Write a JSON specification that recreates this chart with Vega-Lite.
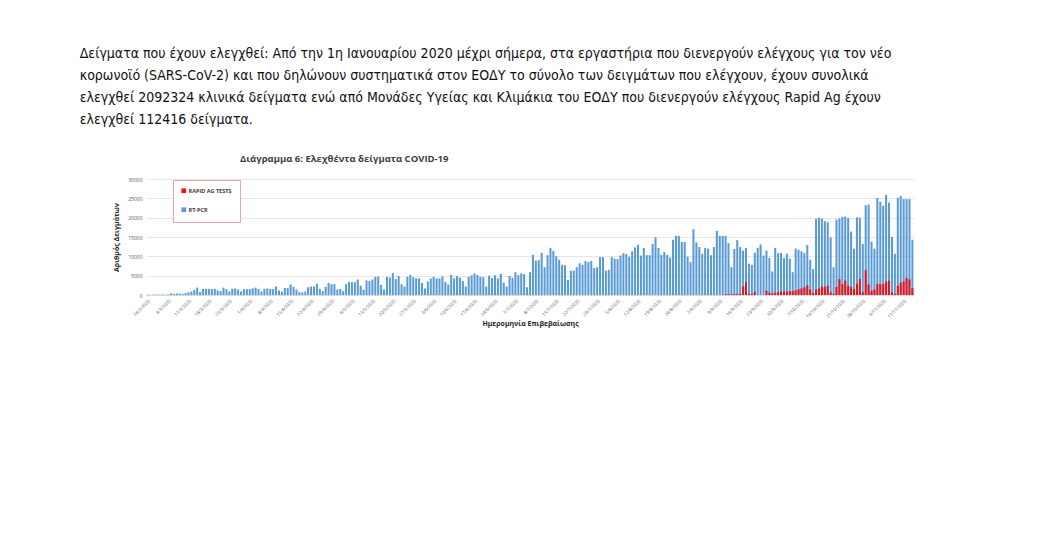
{
"$schema":"https://vega.github.io/schema/vega-lite/v6.json",
"background":"white",
"padding":{"left":79,"top":46,"right":10,"bottom":5},
"title":{"text":["Δείγματα που έχουν ελεγχθεί: Από την 1η Ιανουαρίου 2020 μέχρι σήμερα, στα εργαστήρια που διενεργούν ελέγχους για τον νέο","κορωνοϊό (SARS-CoV-2) και που δηλώνουν συστηματικά στον ΕΟΔΥ το σύνολο των δειγμάτων που ελέγχουν, έχουν συνολικά","ελεγχθεί 2092324 κλινικά δείγματα ενώ από Μονάδες Υγείας και Κλιμάκια του ΕΟΔΥ που διενεργούν ελέγχους Rapid Ag έχουν","ελεγχθεί 112416 δείγματα."],"anchor":"start","font":"DejaVu Sans Condensed","fontSize":14,"fontWeight":"normal","color":"#111111","lineHeight":22,"offset":27,"dx":-33},
"data":{"values":[
{"date":"26/2/2020","test":"RT-PCR","count":100},{"date":"27/2/2020","test":"RT-PCR","count":50},{"date":"28/2/2020","test":"RT-PCR","count":80},{"date":"29/2/2020","test":"RT-PCR","count":150},
{"date":"1/3/2020","test":"RT-PCR","count":100},{"date":"2/3/2020","test":"RT-PCR","count":120},{"date":"3/3/2020","test":"RT-PCR","count":60},{"date":"4/3/2020","test":"RT-PCR","count":150},{"date":"5/3/2020","test":"RT-PCR","count":400},{"date":"6/3/2020","test":"RT-PCR","count":300},{"date":"7/3/2020","test":"RT-PCR","count":400},{"date":"8/3/2020","test":"RT-PCR","count":350},{"date":"9/3/2020","test":"RT-PCR","count":300},{"date":"10/3/2020","test":"RT-PCR","count":500},{"date":"11/3/2020","test":"RT-PCR","count":700},{"date":"12/3/2020","test":"RT-PCR","count":900},{"date":"13/3/2020","test":"RT-PCR","count":1300},{"date":"14/3/2020","test":"RT-PCR","count":1900},{"date":"15/3/2020","test":"RT-PCR","count":800},{"date":"16/3/2020","test":"RT-PCR","count":1600},{"date":"17/3/2020","test":"RT-PCR","count":1600},{"date":"18/3/2020","test":"RT-PCR","count":1600},{"date":"19/3/2020","test":"RT-PCR","count":1500},{"date":"20/3/2020","test":"RT-PCR","count":1600},{"date":"21/3/2020","test":"RT-PCR","count":1200},{"date":"22/3/2020","test":"RT-PCR","count":1000},{"date":"23/3/2020","test":"RT-PCR","count":1900},{"date":"24/3/2020","test":"RT-PCR","count":1500},{"date":"25/3/2020","test":"RT-PCR","count":900},{"date":"26/3/2020","test":"RT-PCR","count":1600},{"date":"27/3/2020","test":"RT-PCR","count":1700},{"date":"28/3/2020","test":"RT-PCR","count":1400},{"date":"29/3/2020","test":"RT-PCR","count":900},{"date":"30/3/2020","test":"RT-PCR","count":1500},{"date":"31/3/2020","test":"RT-PCR","count":1500},
{"date":"1/4/2020","test":"RT-PCR","count":1500},{"date":"2/4/2020","test":"RT-PCR","count":1700},{"date":"3/4/2020","test":"RT-PCR","count":1900},{"date":"4/4/2020","test":"RT-PCR","count":1500},{"date":"5/4/2020","test":"RT-PCR","count":900},{"date":"6/4/2020","test":"RT-PCR","count":1600},{"date":"7/4/2020","test":"RT-PCR","count":1700},{"date":"8/4/2020","test":"RT-PCR","count":1550},{"date":"9/4/2020","test":"RT-PCR","count":1550},{"date":"10/4/2020","test":"RT-PCR","count":2200},{"date":"11/4/2020","test":"RT-PCR","count":1200},{"date":"12/4/2020","test":"RT-PCR","count":860},{"date":"13/4/2020","test":"RT-PCR","count":1800},{"date":"14/4/2020","test":"RT-PCR","count":1800},{"date":"15/4/2020","test":"RT-PCR","count":2700},{"date":"16/4/2020","test":"RT-PCR","count":2100},{"date":"17/4/2020","test":"RT-PCR","count":1400},{"date":"18/4/2020","test":"RT-PCR","count":700},{"date":"19/4/2020","test":"RT-PCR","count":700},{"date":"20/4/2020","test":"RT-PCR","count":860},{"date":"21/4/2020","test":"RT-PCR","count":2000},{"date":"22/4/2020","test":"RT-PCR","count":2200},{"date":"23/4/2020","test":"RT-PCR","count":2200},{"date":"24/4/2020","test":"RT-PCR","count":2900},{"date":"25/4/2020","test":"RT-PCR","count":1600},{"date":"26/4/2020","test":"RT-PCR","count":1000},{"date":"27/4/2020","test":"RT-PCR","count":2100},{"date":"28/4/2020","test":"RT-PCR","count":3100},{"date":"29/4/2020","test":"RT-PCR","count":2800},{"date":"30/4/2020","test":"RT-PCR","count":2800},
{"date":"1/5/2020","test":"RT-PCR","count":1400},{"date":"2/5/2020","test":"RT-PCR","count":1550},{"date":"3/5/2020","test":"RT-PCR","count":1000},{"date":"4/5/2020","test":"RT-PCR","count":2800},{"date":"5/5/2020","test":"RT-PCR","count":3400},{"date":"6/5/2020","test":"RT-PCR","count":3300},{"date":"7/5/2020","test":"RT-PCR","count":3300},{"date":"8/5/2020","test":"RT-PCR","count":4000},{"date":"9/5/2020","test":"RT-PCR","count":2400},{"date":"10/5/2020","test":"RT-PCR","count":1400},{"date":"11/5/2020","test":"RT-PCR","count":3800},{"date":"12/5/2020","test":"RT-PCR","count":3600},{"date":"13/5/2020","test":"RT-PCR","count":4000},{"date":"14/5/2020","test":"RT-PCR","count":4700},{"date":"15/5/2020","test":"RT-PCR","count":4800},{"date":"16/5/2020","test":"RT-PCR","count":2600},{"date":"17/5/2020","test":"RT-PCR","count":1400},{"date":"18/5/2020","test":"RT-PCR","count":4700},{"date":"19/5/2020","test":"RT-PCR","count":4500},{"date":"20/5/2020","test":"RT-PCR","count":5700},{"date":"21/5/2020","test":"RT-PCR","count":4100},{"date":"22/5/2020","test":"RT-PCR","count":4900},{"date":"23/5/2020","test":"RT-PCR","count":2800},{"date":"24/5/2020","test":"RT-PCR","count":2200},{"date":"25/5/2020","test":"RT-PCR","count":4700},{"date":"26/5/2020","test":"RT-PCR","count":5200},{"date":"27/5/2020","test":"RT-PCR","count":4600},{"date":"28/5/2020","test":"RT-PCR","count":4300},{"date":"29/5/2020","test":"RT-PCR","count":4300},{"date":"30/5/2020","test":"RT-PCR","count":3100},{"date":"31/5/2020","test":"RT-PCR","count":1700},
{"date":"1/6/2020","test":"RT-PCR","count":3500},{"date":"2/6/2020","test":"RT-PCR","count":4300},{"date":"3/6/2020","test":"RT-PCR","count":4700},{"date":"4/6/2020","test":"RT-PCR","count":4300},{"date":"5/6/2020","test":"RT-PCR","count":4300},{"date":"6/6/2020","test":"RT-PCR","count":4800},{"date":"7/6/2020","test":"RT-PCR","count":3400},{"date":"8/6/2020","test":"RT-PCR","count":2700},{"date":"9/6/2020","test":"RT-PCR","count":5200},{"date":"10/6/2020","test":"RT-PCR","count":4300},{"date":"11/6/2020","test":"RT-PCR","count":4900},{"date":"12/6/2020","test":"RT-PCR","count":4500},{"date":"13/6/2020","test":"RT-PCR","count":3600},{"date":"14/6/2020","test":"RT-PCR","count":2200},{"date":"15/6/2020","test":"RT-PCR","count":4700},{"date":"16/6/2020","test":"RT-PCR","count":5100},{"date":"17/6/2020","test":"RT-PCR","count":5600},{"date":"18/6/2020","test":"RT-PCR","count":5200},{"date":"19/6/2020","test":"RT-PCR","count":4700},{"date":"20/6/2020","test":"RT-PCR","count":4600},{"date":"21/6/2020","test":"RT-PCR","count":2200},{"date":"22/6/2020","test":"RT-PCR","count":5000},{"date":"23/6/2020","test":"RT-PCR","count":4400},{"date":"24/6/2020","test":"RT-PCR","count":5100},{"date":"25/6/2020","test":"RT-PCR","count":4300},{"date":"26/6/2020","test":"RT-PCR","count":5500},{"date":"27/6/2020","test":"RT-PCR","count":3200},{"date":"28/6/2020","test":"RT-PCR","count":2200},{"date":"29/6/2020","test":"RT-PCR","count":4900},{"date":"30/6/2020","test":"RT-PCR","count":4400},
{"date":"1/7/2020","test":"RT-PCR","count":5900},{"date":"2/7/2020","test":"RT-PCR","count":5100},{"date":"3/7/2020","test":"RT-PCR","count":5600},{"date":"4/7/2020","test":"RT-PCR","count":5400},{"date":"5/7/2020","test":"RT-PCR","count":2000},{"date":"6/7/2020","test":"RT-PCR","count":5900},{"date":"7/7/2020","test":"RT-PCR","count":10400},{"date":"8/7/2020","test":"RT-PCR","count":8900},{"date":"9/7/2020","test":"RT-PCR","count":9000},{"date":"10/7/2020","test":"RT-PCR","count":10900},{"date":"11/7/2020","test":"RT-PCR","count":7200},{"date":"12/7/2020","test":"RT-PCR","count":10300},{"date":"13/7/2020","test":"RT-PCR","count":12200},{"date":"14/7/2020","test":"RT-PCR","count":11400},{"date":"15/7/2020","test":"RT-PCR","count":10000},{"date":"16/7/2020","test":"RT-PCR","count":9100},{"date":"17/7/2020","test":"RT-PCR","count":7800},{"date":"18/7/2020","test":"RT-PCR","count":7700},{"date":"19/7/2020","test":"RT-PCR","count":3900},{"date":"20/7/2020","test":"RT-PCR","count":6300},{"date":"21/7/2020","test":"RT-PCR","count":6300},{"date":"22/7/2020","test":"RT-PCR","count":7200},{"date":"23/7/2020","test":"RT-PCR","count":8200},{"date":"24/7/2020","test":"RT-PCR","count":7800},{"date":"25/7/2020","test":"RT-PCR","count":8800},{"date":"26/7/2020","test":"RT-PCR","count":8500},{"date":"27/7/2020","test":"RT-PCR","count":8800},{"date":"28/7/2020","test":"RT-PCR","count":7000},{"date":"29/7/2020","test":"RT-PCR","count":7200},{"date":"30/7/2020","test":"RT-PCR","count":9800},{"date":"31/7/2020","test":"RT-PCR","count":9800},
{"date":"1/8/2020","test":"RT-PCR","count":6300},{"date":"2/8/2020","test":"RT-PCR","count":6500},{"date":"3/8/2020","test":"RT-PCR","count":9800},{"date":"4/8/2020","test":"RT-PCR","count":9400},{"date":"5/8/2020","test":"RT-PCR","count":9300},{"date":"6/8/2020","test":"RT-PCR","count":10200},{"date":"7/8/2020","test":"RT-PCR","count":10800},{"date":"8/8/2020","test":"RT-PCR","count":10600},{"date":"9/8/2020","test":"RT-PCR","count":9900},{"date":"10/8/2020","test":"RT-PCR","count":11300},{"date":"11/8/2020","test":"RT-PCR","count":12300},{"date":"12/8/2020","test":"RT-PCR","count":13000},{"date":"13/8/2020","test":"RT-PCR","count":10200},{"date":"14/8/2020","test":"RT-PCR","count":12200},{"date":"15/8/2020","test":"RT-PCR","count":10300},{"date":"16/8/2020","test":"RT-PCR","count":10300},{"date":"17/8/2020","test":"RT-PCR","count":13200},{"date":"18/8/2020","test":"RT-PCR","count":14900},{"date":"19/8/2020","test":"RT-PCR","count":12200},{"date":"20/8/2020","test":"RT-PCR","count":10400},{"date":"21/8/2020","test":"RT-PCR","count":11100},{"date":"22/8/2020","test":"RT-PCR","count":10400},{"date":"23/8/2020","test":"RT-PCR","count":9700},{"date":"24/8/2020","test":"RT-PCR","count":14300},{"date":"25/8/2020","test":"RT-PCR","count":15300},{"date":"26/8/2020","test":"RT-PCR","count":15300},{"date":"27/8/2020","test":"RT-PCR","count":13700},{"date":"28/8/2020","test":"RT-PCR","count":13700},{"date":"29/8/2020","test":"RT-PCR","count":9900},{"date":"30/8/2020","test":"RT-PCR","count":8500},{"date":"31/8/2020","test":"RT-PCR","count":17000},
{"date":"1/9/2020","test":"RT-PCR","count":13600},{"date":"2/9/2020","test":"RT-PCR","count":12400},{"date":"3/9/2020","test":"RT-PCR","count":10600},{"date":"4/9/2020","test":"RT-PCR","count":12200},{"date":"5/9/2020","test":"RT-PCR","count":12000},{"date":"6/9/2020","test":"RT-PCR","count":10300},{"date":"7/9/2020","test":"RT-PCR","count":12400},{"date":"8/9/2020","test":"RT-PCR","count":16600},{"date":"9/9/2020","test":"RT-PCR","count":15300},{"date":"10/9/2020","test":"RT-PCR","count":15300},{"date":"11/9/2020","test":"RT-PCR","count":15300},{"date":"12/9/2020","test":"RT-PCR","count":13400},{"date":"13/9/2020","test":"RT-PCR","count":7200},{"date":"14/9/2020","test":"RT-PCR","count":11900},{"date":"15/9/2020","test":"RT-PCR","count":14200},{"date":"16/9/2020","test":"RT-PCR","count":12400},{"date":"17/9/2020","test":"RT-PCR","count":11500},{"date":"18/9/2020","test":"RT-PCR","count":12200},{"date":"19/9/2020","test":"RT-PCR","count":8100},{"date":"20/9/2020","test":"RT-PCR","count":7800},{"date":"21/9/2020","test":"RT-PCR","count":10900},{"date":"22/9/2020","test":"RT-PCR","count":12200},{"date":"23/9/2020","test":"RT-PCR","count":13100},{"date":"24/9/2020","test":"RT-PCR","count":10200},{"date":"25/9/2020","test":"RT-PCR","count":11500},{"date":"26/9/2020","test":"RT-PCR","count":9600},{"date":"27/9/2020","test":"RT-PCR","count":6100},{"date":"28/9/2020","test":"RT-PCR","count":12200},{"date":"29/9/2020","test":"RT-PCR","count":10800},{"date":"30/9/2020","test":"RT-PCR","count":10900},
{"date":"1/10/2020","test":"RT-PCR","count":9600},{"date":"2/10/2020","test":"RT-PCR","count":10700},{"date":"3/10/2020","test":"RT-PCR","count":9400},{"date":"4/10/2020","test":"RT-PCR","count":5900},{"date":"5/10/2020","test":"RT-PCR","count":12000},{"date":"6/10/2020","test":"RT-PCR","count":11700},{"date":"7/10/2020","test":"RT-PCR","count":11300},{"date":"8/10/2020","test":"RT-PCR","count":10900},{"date":"9/10/2020","test":"RT-PCR","count":12900},{"date":"10/10/2020","test":"RT-PCR","count":9100},{"date":"11/10/2020","test":"RT-PCR","count":6700},{"date":"12/10/2020","test":"RT-PCR","count":19700},{"date":"13/10/2020","test":"RT-PCR","count":20000},{"date":"14/10/2020","test":"RT-PCR","count":19800},{"date":"15/10/2020","test":"RT-PCR","count":19100},{"date":"16/10/2020","test":"RT-PCR","count":18800},{"date":"17/10/2020","test":"RT-PCR","count":14900},{"date":"18/10/2020","test":"RT-PCR","count":7200},{"date":"19/10/2020","test":"RT-PCR","count":19500},{"date":"20/10/2020","test":"RT-PCR","count":19800},{"date":"21/10/2020","test":"RT-PCR","count":20200},{"date":"22/10/2020","test":"RT-PCR","count":20300},{"date":"23/10/2020","test":"RT-PCR","count":19900},{"date":"24/10/2020","test":"RT-PCR","count":16400},{"date":"25/10/2020","test":"RT-PCR","count":12000},{"date":"26/10/2020","test":"RT-PCR","count":20100},{"date":"27/10/2020","test":"RT-PCR","count":20000},{"date":"28/10/2020","test":"RT-PCR","count":13200},{"date":"29/10/2020","test":"RT-PCR","count":23200},{"date":"30/10/2020","test":"RT-PCR","count":23400},{"date":"31/10/2020","test":"RT-PCR","count":13800},
{"date":"1/11/2020","test":"RT-PCR","count":12000},{"date":"2/11/2020","test":"RT-PCR","count":25100},{"date":"3/11/2020","test":"RT-PCR","count":24100},{"date":"4/11/2020","test":"RT-PCR","count":23100},{"date":"5/11/2020","test":"RT-PCR","count":25900},{"date":"6/11/2020","test":"RT-PCR","count":23900},{"date":"7/11/2020","test":"RT-PCR","count":15000},{"date":"8/11/2020","test":"RT-PCR","count":10700},{"date":"9/11/2020","test":"RT-PCR","count":25100},{"date":"10/11/2020","test":"RT-PCR","count":25600},{"date":"11/11/2020","test":"RT-PCR","count":24800},{"date":"12/11/2020","test":"RT-PCR","count":24800},{"date":"13/11/2020","test":"RT-PCR","count":24800},{"date":"14/11/2020","test":"RT-PCR","count":14300},
{"date":"11/9/2020","test":"RAPID AG TESTS","count":200},{"date":"12/9/2020","test":"RAPID AG TESTS","count":200},{"date":"13/9/2020","test":"RAPID AG TESTS","count":150},{"date":"14/9/2020","test":"RAPID AG TESTS","count":250},{"date":"15/9/2020","test":"RAPID AG TESTS","count":250},{"date":"16/9/2020","test":"RAPID AG TESTS","count":300},{"date":"17/9/2020","test":"RAPID AG TESTS","count":2200},{"date":"18/9/2020","test":"RAPID AG TESTS","count":3300},{"date":"19/9/2020","test":"RAPID AG TESTS","count":300},{"date":"20/9/2020","test":"RAPID AG TESTS","count":250},{"date":"21/9/2020","test":"RAPID AG TESTS","count":800},
{"date":"25/9/2020","test":"RAPID AG TESTS","count":1100},{"date":"26/9/2020","test":"RAPID AG TESTS","count":600},{"date":"27/9/2020","test":"RAPID AG TESTS","count":400},{"date":"28/9/2020","test":"RAPID AG TESTS","count":600},{"date":"29/9/2020","test":"RAPID AG TESTS","count":700},{"date":"30/9/2020","test":"RAPID AG TESTS","count":900},
{"date":"1/10/2020","test":"RAPID AG TESTS","count":900},{"date":"2/10/2020","test":"RAPID AG TESTS","count":900},{"date":"3/10/2020","test":"RAPID AG TESTS","count":1000},{"date":"4/10/2020","test":"RAPID AG TESTS","count":1000},{"date":"5/10/2020","test":"RAPID AG TESTS","count":1200},{"date":"6/10/2020","test":"RAPID AG TESTS","count":1500},{"date":"7/10/2020","test":"RAPID AG TESTS","count":1700},{"date":"8/10/2020","test":"RAPID AG TESTS","count":2000},{"date":"9/10/2020","test":"RAPID AG TESTS","count":2500},{"date":"10/10/2020","test":"RAPID AG TESTS","count":1400},{"date":"11/10/2020","test":"RAPID AG TESTS","count":500},{"date":"12/10/2020","test":"RAPID AG TESTS","count":1400},{"date":"13/10/2020","test":"RAPID AG TESTS","count":1700},{"date":"14/10/2020","test":"RAPID AG TESTS","count":2200},{"date":"15/10/2020","test":"RAPID AG TESTS","count":2100},{"date":"16/10/2020","test":"RAPID AG TESTS","count":2400},{"date":"17/10/2020","test":"RAPID AG TESTS","count":700},{"date":"18/10/2020","test":"RAPID AG TESTS","count":300},{"date":"19/10/2020","test":"RAPID AG TESTS","count":2100},{"date":"20/10/2020","test":"RAPID AG TESTS","count":4100},{"date":"21/10/2020","test":"RAPID AG TESTS","count":2800},{"date":"22/10/2020","test":"RAPID AG TESTS","count":3700},{"date":"23/10/2020","test":"RAPID AG TESTS","count":2400},{"date":"24/10/2020","test":"RAPID AG TESTS","count":2100},{"date":"25/10/2020","test":"RAPID AG TESTS","count":1500},{"date":"26/10/2020","test":"RAPID AG TESTS","count":2900},{"date":"27/10/2020","test":"RAPID AG TESTS","count":4200},{"date":"28/10/2020","test":"RAPID AG TESTS","count":700},{"date":"29/10/2020","test":"RAPID AG TESTS","count":6400},{"date":"30/10/2020","test":"RAPID AG TESTS","count":2700},{"date":"31/10/2020","test":"RAPID AG TESTS","count":1100},
{"date":"1/11/2020","test":"RAPID AG TESTS","count":1400},{"date":"2/11/2020","test":"RAPID AG TESTS","count":2900},{"date":"3/11/2020","test":"RAPID AG TESTS","count":2800},{"date":"4/11/2020","test":"RAPID AG TESTS","count":2900},{"date":"5/11/2020","test":"RAPID AG TESTS","count":3500},{"date":"6/11/2020","test":"RAPID AG TESTS","count":3700},{"date":"7/11/2020","test":"RAPID AG TESTS","count":700},{"date":"8/11/2020","test":"RAPID AG TESTS","count":300},{"date":"9/11/2020","test":"RAPID AG TESTS","count":2400},{"date":"10/11/2020","test":"RAPID AG TESTS","count":3200},{"date":"11/11/2020","test":"RAPID AG TESTS","count":3500},{"date":"12/11/2020","test":"RAPID AG TESTS","count":4400},{"date":"13/11/2020","test":"RAPID AG TESTS","count":4000},{"date":"14/11/2020","test":"RAPID AG TESTS","count":1800}
]},
"vconcat":[{
"width":768,"height":116,
"title":{"text":"Διάγραμμα 6: Ελεχθέντα δείγματα COVID-19","anchor":"start","frame":"group","dx":94,"offset":14,"font":"Open Sans","fontSize":9.5,"fontWeight":"bold","color":"#404040"},
"mark":{"type":"bar"},
"encoding":{
"x":{"field":"date","type":"ordinal","sort":null,"scale":{"paddingInner":0.3,"paddingOuter":0.2},
"axis":{"values":["26/2/2020","4/3/2020","11/3/2020","18/3/2020","25/3/2020","1/4/2020","8/4/2020","15/4/2020","22/4/2020","29/4/2020","6/5/2020","13/5/2020","20/5/2020","27/5/2020","3/6/2020","10/6/2020","17/6/2020","24/6/2020","1/7/2020","8/7/2020","15/7/2020","22/7/2020","29/7/2020","5/8/2020","12/8/2020","19/8/2020","26/8/2020","2/9/2020","9/9/2020","16/9/2020","23/9/2020","30/9/2020","7/10/2020","14/10/2020","21/10/2020","28/10/2020","4/11/2020","11/11/2020"],
"labelAngle":-45,"labelFontSize":4.5,"labelColor":"#595959","ticks":false,"domainColor":"#d9d9d9","labelPadding":3,
"title":"Ημερομηνία Επιβεβαίωσης","titleFontSize":7,"titleFontWeight":"bold","titleColor":"#262626","titlePadding":1}},
"y":{"field":"count","type":"quantitative","stack":null,"scale":{"domain":[0,30000],"nice":false},
"axis":{"values":[0,5000,10000,15000,20000,25000,30000],"format":"d","labelFontSize":5,"labelColor":"#595959","domain":false,"ticks":false,"gridColor":"#e6e6e6","labelPadding":4,
"title":"Αριθμός Δειγμάτων","titleFontSize":7,"titleFontWeight":"bold","titleColor":"#262626","titlePadding":8}},
"color":{"field":"test","type":"nominal","scale":{"domain":["RAPID AG TESTS","RT-PCR"],"range":["#e8141c","#5b9bd5"]},
"legend":{"title":null,"orient":"none","legendX":27,"legendY":1,"direction":"vertical","padding":8,"strokeColor":"#e8a8a8","fillColor":"white","symbolType":"square","symbolSize":22,"symbolStrokeWidth":0,"labelFontSize":5.5,"labelFontWeight":"bold","labelColor":"#404040","rowPadding":12,"labelOffset":2}},
"order":{"field":"test","sort":"descending"}
}
}],
"config":{"font":"Open Sans","view":{"stroke":null},"axis":{"labelFont":"Open Sans","titleFont":"Open Sans"},"legend":{"labelFont":"Open Sans"}}
}
